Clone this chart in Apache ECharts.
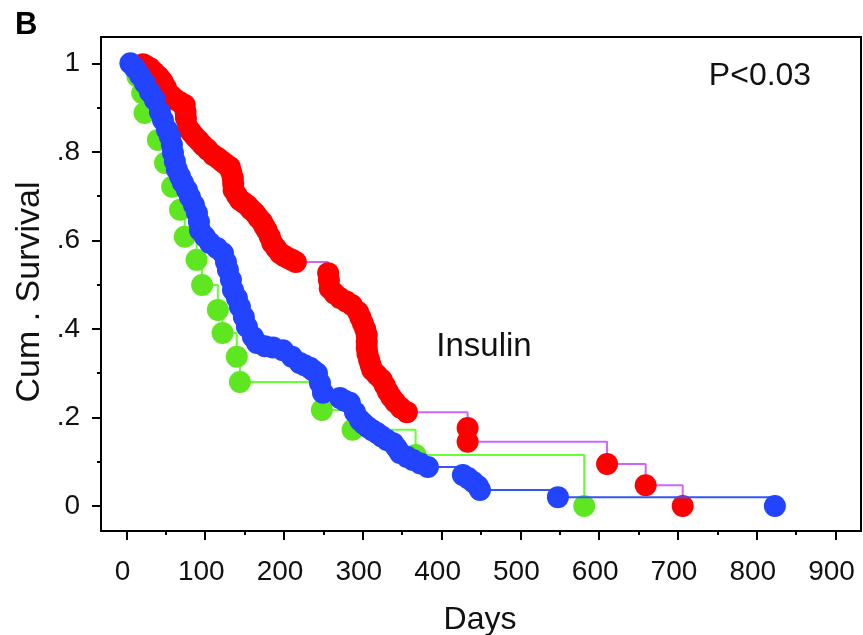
<!DOCTYPE html>
<html>
<head>
<meta charset="utf-8">
<script src="https://cdn.jsdelivr.net/npm/echarts@6/dist/echarts.min.js"></script>
<style>
html,body{margin:0;padding:0;background:#fff;}
#chart{width:863px;height:635px;}
</style>
</head>
<body>
<div id="chart"></div>
<script>
// ---- data ----
const xTickValues = [0, 100, 200, 300, 400, 500, 600, 700, 800, 900];
const xMinorValues = [50, 150, 250, 350, 450, 550, 650, 750, 850];
const yTickValues = [0, 0.2, 0.4, 0.6, 0.8, 1];
const yMinorValues = [0.1, 0.3, 0.5, 0.7, 0.9];

// red group (magenta step line)
const redDays = [21, 25, 30, 35, 40, 43, 46, 50, 53, 58, 63, 68, 74, 75, 75.5, 78, 82, 87, 92, 97, 103, 110, 116, 121, 126, 131, 133, 135, 135.5, 136, 140, 144,
  149, 154, 158, 163, 167, 172, 175, 178, 182, 185, 190, 195, 200, 205, 210, 215,
  256, 257, 258, 264, 271, 279, 286, 294, 297, 300, 303, 305, 305, 305, 306, 308, 310, 312, 318, 324, 328, 332, 336, 341, 348, 356,
  433, 433, 610, 659, 706];
const redSurv = [0.998, 0.994, 0.989, 0.980, 0.971, 0.965, 0.958, 0.945, 0.933, 0.925, 0.917, 0.912, 0.906, 0.890, 0.876, 0.854, 0.845, 0.834, 0.825, 0.815, 0.805, 0.793, 0.786, 0.779, 0.772, 0.766, 0.754, 0.741, 0.728, 0.714, 0.702, 0.691,
  0.685, 0.678, 0.670, 0.662, 0.652, 0.642, 0.632, 0.623, 0.608, 0.594, 0.582, 0.571, 0.565, 0.560, 0.556, 0.551,
  0.526, 0.510, 0.492, 0.480, 0.470, 0.462, 0.454, 0.438, 0.426, 0.413, 0.400, 0.386, 0.371, 0.357, 0.343, 0.330, 0.318, 0.307, 0.296, 0.285, 0.272, 0.258, 0.246, 0.235, 0.222, 0.212,
  0.176, 0.145, 0.095, 0.047, 0];

// green group
const greenDays = [14, 20, 23, 40, 49, 58, 68, 74, 89, 96, 116, 122, 140, 144, 248, 287, 367, 581];
const greenSurv = [0.97, 0.933, 0.888, 0.827, 0.775, 0.721, 0.669, 0.608, 0.556, 0.499, 0.443, 0.391, 0.337, 0.28, 0.217, 0.172, 0.115, 0];

// blue group
const blueDays = [5, 10.8, 17.1, 23.5, 29.8, 36.2, 42.5, 46.3, 51.4, 55.2, 57.7, 59, 61.5, 64, 67.9, 71.7, 76.8, 80.6, 85.7, 89.5, 92, 93.3, 99.6, 106, 114.8, 122.5,
  126.3, 128.8, 132.6, 135.2, 140.2, 144, 149, 152.9, 160.5, 165.6, 175.8, 186, 198.6, 210, 220, 226, 232.9, 237, 241.8, 245.6, 249.4, 271, 277, 283.5, 290, 296.3, 301, 306.5, 312, 317.9,
  324, 330.6, 338.3, 343, 347.1, 356, 363.6, 373, 382.6, 427, 433.6, 440, 446, 448.7, 547.6, 823];
const blueSurv = [1.0, 0.989, 0.973, 0.955, 0.935, 0.917, 0.890, 0.872, 0.850, 0.834, 0.816, 0.798, 0.778, 0.760, 0.745, 0.730, 0.714, 0.698, 0.680, 0.662, 0.642, 0.623, 0.608, 0.594, 0.583, 0.571,
  0.551, 0.533, 0.511, 0.488, 0.470, 0.450, 0.427, 0.405, 0.382, 0.368, 0.361, 0.358, 0.352, 0.337, 0.323, 0.318, 0.312, 0.306, 0.300, 0.278, 0.256, 0.244, 0.238, 0.233, 0.212, 0.194, 0.186, 0.178, 0.171, 0.165,
  0.157, 0.149, 0.142, 0.131, 0.120, 0.111, 0.104, 0.096, 0.088, 0.070, 0.063, 0.054, 0.045, 0.036, 0.020, 0];

const pairs = (xs, ys) => xs.map((x, i) => [x, ys[i]]);

const FONT = '"Liberation Sans", Arial, Helvetica, sans-serif';
const X_MIN = -32.3, X_MAX = 932.3;
const Y_MIN = -0.0565, Y_MAX = 1.0594;

const chart = echarts.init(document.getElementById('chart'), null, {renderer: 'canvas'});

function kmSeries(name, data, lineColor, markColor, z) {
  return {
    name, type: 'line', step: 'end', data,
    xAxisIndex: 0, yAxisIndex: 0,
    showAllSymbol: true,
    symbol: 'circle', symbolSize: 22,
    lineStyle: {color: lineColor, width: 2},
    itemStyle: {color: markColor, borderWidth: 0},
    z, clip: true, silent: true
  };
}

chart.setOption({
  animation: false,
  backgroundColor: '#fff',
  grid: {left: 101, top: 37, right: 2, bottom: 104, show: true, borderColor: '#000', borderWidth: 2, backgroundColor: 'transparent'},
  xAxis: [
    {
      type: 'value', min: X_MIN, max: X_MAX, position: 'bottom',
      axisLine: {show: true, onZero: false, lineStyle: {color: '#000', width: 2}},
      axisTick: {show: true, customValues: xTickValues, length: 9, lineStyle: {color: '#000', width: 2}},
      axisLabel: {show: true, customValues: xTickValues, fontSize: 28, fontFamily: FONT, color: '#111', margin: 27, padding: [0, 8, 0, 0]},
      splitLine: {show: false}
    },
    {
      type: 'value', min: X_MIN, max: X_MAX, position: 'bottom',
      axisLine: {show: false, onZero: false},
      axisTick: {show: true, customValues: xMinorValues, length: 4, lineStyle: {color: '#000', width: 2}},
      axisLabel: {show: false},
      splitLine: {show: false}
    }
  ],
  yAxis: [
    {
      type: 'value', min: Y_MIN, max: Y_MAX, position: 'left',
      axisLine: {show: true, onZero: false, lineStyle: {color: '#000', width: 2}},
      axisTick: {show: true, customValues: yTickValues, length: 9, lineStyle: {color: '#000', width: 2}},
      axisLabel: {
        show: true, customValues: yTickValues, fontSize: 28, fontFamily: FONT, color: '#111', margin: 21,
        formatter: v => (Math.abs(v) < 1e-9 ? '0' : Math.abs(v - 1) < 1e-9 ? '1' : '.' + Math.round(v * 10))
      },
      splitLine: {show: false}
    },
    {
      type: 'value', min: Y_MIN, max: Y_MAX, position: 'left',
      axisLine: {show: false, onZero: false},
      axisTick: {show: true, customValues: yMinorValues, length: 4, lineStyle: {color: '#000', width: 2}},
      axisLabel: {show: false},
      splitLine: {show: false}
    }
  ],
  graphic: [
    {type: 'text', left: 15, top: 10, style: {text: 'B', font: 'bold 31px ' + FONT, fill: '#000'}},
    {type: 'text', x: 30, y: 292, rotation: Math.PI / 2,
      style: {text: 'Cum . Survival', font: '34px ' + FONT, fill: '#111', align: 'center', verticalAlign: 'middle'}},
    {type: 'text', x: 480, y: 620, style: {text: 'Days', font: '32px ' + FONT, fill: '#111', align: 'center', verticalAlign: 'middle'}},
    {type: 'text', x: 760, y: 76, style: {text: 'P<0.03', font: '32px ' + FONT, fill: '#111', align: 'center', verticalAlign: 'middle'}},
    {type: 'text', x: 484, y: 347, style: {text: 'Insulin', font: '33px ' + FONT, fill: '#111', align: 'center', verticalAlign: 'middle'}}
  ],
  series: [
    kmSeries('red', pairs(redDays, redSurv), '#cc66ff', '#ff0000', 2),
    kmSeries('green', pairs(greenDays, greenSurv), '#66ff33', '#5ee620', 3),
    kmSeries('blue', pairs(blueDays, blueSurv), '#3355ff', '#2244ff', 4)
  ]
});
</script>
</body>
</html>
